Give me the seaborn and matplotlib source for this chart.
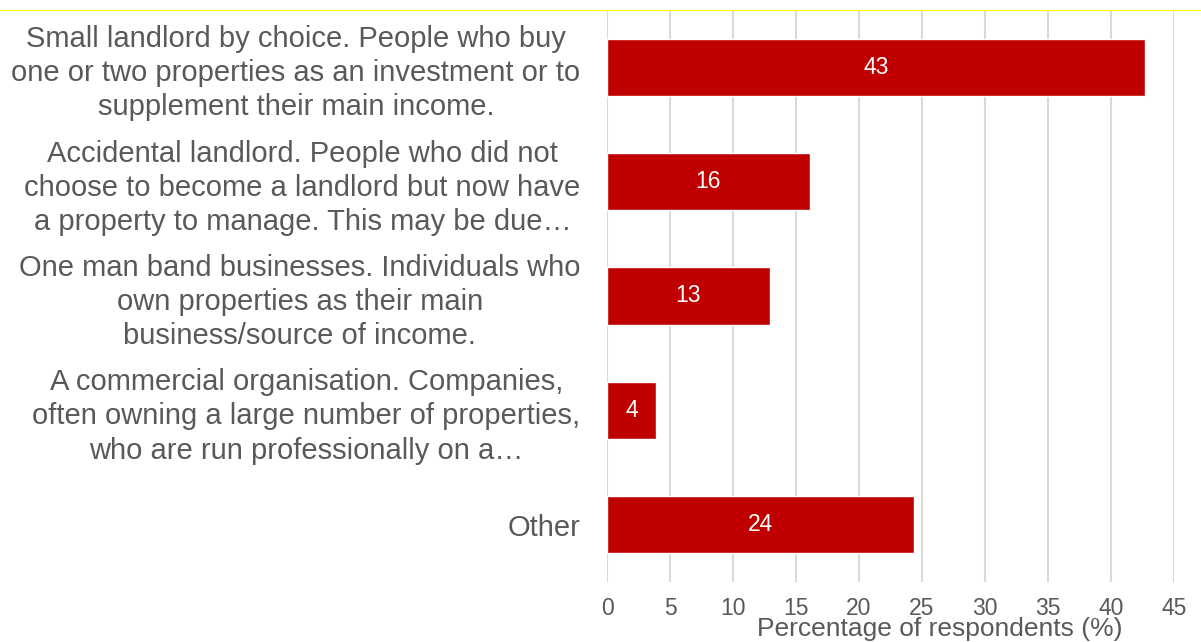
import matplotlib
matplotlib.use("Agg")
import matplotlib.pyplot as plt
from matplotlib.lines import Line2D
import seaborn as sns
import pandas as pd

# Survey responses: which description best fits the landlord
categories = [
    "Small landlord by choice. People who buy\none or two properties as an investment or to\nsupplement their main income.",
    "Accidental landlord. People who did not\nchoose to become a landlord but now have\na property to manage. This may be due…",
    "One man band businesses. Individuals who\nown properties as their main\nbusiness/source of income.",
    "A commercial organisation. Companies,\noften owning a large number of properties,\nwho are run professionally on a…",
    "Other",
]
percentages = [42.7, 16.1, 12.9, 3.9, 24.4]
x_ticks = [0, 5, 10, 15, 20, 25, 30, 35, 40, 45]
x_label = "Percentage of respondents (%)"

sns.set_theme(style="white")
plt.rcParams["font.family"] = ["Liberation Sans", "DejaVu Sans"]

text_grey = "#595959"
bar_red = "#C00000"

df = pd.DataFrame({"category": categories, "pct": percentages})

fig = plt.figure(figsize=(12.01, 6.42), dpi=100)
ax = fig.add_axes([607 / 1201, 1 - 582 / 642, (1174 - 607) / 1201, (582 - 10) / 642])

sns.barplot(data=df, y="category", x="pct", orient="h", color=bar_red,
            saturation=1, width=0.5, ax=ax, zorder=3)

ax.set_xlim(0, 45)
ax.set_xticks(x_ticks)
ax.set_xticklabels([str(t) for t in x_ticks])
ax.set_xlabel("")
ax.set_ylabel("")

ax.grid(axis="x", color="#D9D9D9", linewidth=1.5, zorder=0)
ax.grid(axis="y", visible=False)
for s in ax.spines.values():
    s.set_visible(False)

ax.tick_params(axis="x", length=0, pad=11, labelsize=16.5, labelcolor=text_grey)
ax.tick_params(axis="y", length=0, pad=19, labelsize=21, labelcolor=text_grey)
for lbl in ax.get_yticklabels():
    lbl.set_multialignment("center")
    lbl.set_linespacing(1.28)

# value labels centred in each bar
for container in ax.containers:
    ax.bar_label(container, labels=[f"{v:.0f}" for v in percentages],
                 label_type="center", color="white", fontsize=16.5)

fig.text(940 / 1201, 0.0095, x_label, ha="center", va="baseline",
         fontsize=19, color=text_grey)

# thin rule across the top of the figure
fig.add_artist(Line2D([0, 1], [1 - 9.5 / 642] * 2, transform=fig.transFigure,
                      color="#FFFF00", linewidth=0.8))

fig.savefig("out.png", dpi=100)
